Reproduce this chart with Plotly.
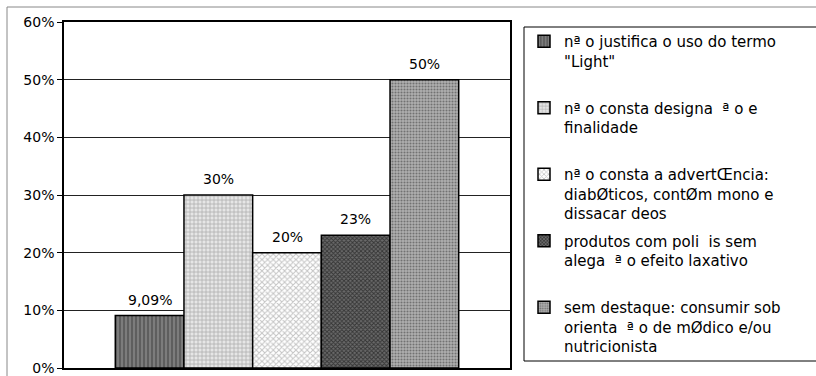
import plotly.graph_objects as go

category = [""]
series_names = [
    "nª o justifica o uso do termo<br>\"Light\"<br> ",
    "nª o consta designa  ª o e<br>finalidade<br> ",
    "nª o consta a advertŒncia:<br>diabØticos, contØm mono e<br>dissacar deos",
    "produtos com poli  is sem<br>alega  ª o efeito laxativo<br> ",
    "sem destaque: consumir sob<br>orienta  ª o de mØdico e/ou<br>nutricionista",
]
values = [9.09, 30, 20, 23, 50]
labels = ["9,09%", "30%", "20%", "23%", "50%"]
tick_vals = [0, 10, 20, 30, 40, 50, 60]
tick_text = ["0%", "10%", "20%", "30%", "40%", "50%", "60%"]

patterns = [
    dict(shape="|", bgcolor="#5e5e5e", fgcolor="#b4b4b4", size=4, solidity=0.35),
    dict(shape="+", bgcolor="#e6e6e6", fgcolor="#777777", size=4, solidity=0.35),
    dict(shape="x", bgcolor="#ffffff", fgcolor="#8a8a8a", size=4, solidity=0.45),
    dict(shape="x", bgcolor="#6a6a6a", fgcolor="#000000", size=3, solidity=0.5),
    dict(shape=".", bgcolor="#b0b0b0", fgcolor="#333333", size=3, solidity=0.4),
]

FONT = "DejaVu Sans"
BARGAP = 0.23

fig = go.Figure()
for i in range(len(values)):
    fig.add_trace(go.Bar(
        x=category,
        y=[values[i]],
        name=series_names[i],
        legendgroup="g%d" % i,
        hoverinfo="skip",
        marker=dict(color=patterns[i]["bgcolor"], pattern=patterns[i],
                    line=dict(color="#000", width=1.5)),
    ))

# value labels above each bar (bar centre offset inside the single group)
n = len(values)
slot = (1 - BARGAP) / n
annotations = []
for i in range(n):
    annotations.append(dict(
        x=(i - (n - 1) / 2) * slot, y=values[i], xref="x", yref="y",
        text=labels[i], showarrow=False, yanchor="middle", yshift=16,
        font=dict(family=FONT, size=14, color="#000"),
    ))

W, H = 816, 376
ml, mr, mt, mb = 64, 306, 22, 8
pw, ph = W - ml - mr, H - mt - mb

def px_x(x):
    return (x - ml) / pw

def px_y(y):
    return (H - mb - y) / ph

shapes = [
    # outer chart border
    dict(type="rect", xref="paper", yref="paper",
         x0=px_x(7), x1=px_x(830), y0=px_y(390), y1=px_y(7),
         line=dict(color="#888", width=1), fillcolor="rgba(0,0,0,0)", layer="below"),
    # legend box
    dict(type="rect", xref="paper", yref="paper",
         x0=px_x(524), x1=px_x(830), y0=px_y(361), y1=px_y(27),
         line=dict(color="#000", width=1), fillcolor="rgba(0,0,0,0)"),
]

fig.update_layout(
    width=W, height=H,
    margin=dict(l=ml, r=mr, t=mt, b=mb, pad=0, autoexpand=False),
    paper_bgcolor="white", plot_bgcolor="white",
    font=dict(family=FONT, size=14, color="#000"),
    barmode="group", bargap=BARGAP, bargroupgap=0,
    showlegend=True,
    legend=dict(x=px_x(524), y=px_y(25), xanchor="left", yanchor="top",
                font=dict(family=FONT, size=15, color="#000"),
                valign="top", tracegroupgap=5, borderwidth=0,
                bgcolor="rgba(0,0,0,0)", traceorder="grouped"),
    shapes=shapes,
    annotations=annotations,
    xaxis=dict(showticklabels=False, showgrid=False, showline=True, mirror=True,
               linecolor="#000", linewidth=1.5, ticks="", zeroline=False,
               automargin=False, fixedrange=True),
    yaxis=dict(range=[0, 60], tickvals=tick_vals, ticktext=tick_text,
               showgrid=True, gridcolor="#222", gridwidth=1,
               showline=True, mirror=True, linecolor="#000", linewidth=1.5,
               ticks="outside", ticklen=5, tickcolor="#000", zeroline=False,
               automargin=False, fixedrange=True,
               tickfont=dict(family=FONT, size=14, color="#000")),
)

fig.write_html("out.html", config={"displayModeBar": False},
               post_script="document.body.style.margin='0px';")
